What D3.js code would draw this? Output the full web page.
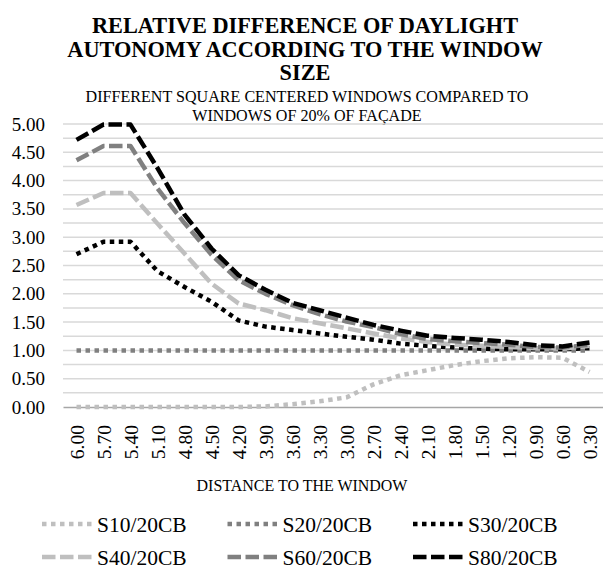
<!DOCTYPE html>
<html>
<head>
<meta charset="utf-8">
<script src="https://cdn.jsdelivr.net/npm/d3@7"></script>
<style>
  html, body { margin: 0; padding: 0; background: #fff; }
  svg text { font-family: "Liberation Serif", "Times New Roman", serif; }
</style>
</head>
<body>
<div id="chart"></div>
<script>
// distances (x categories) and the six series
const distances = ["6.00", "5.70", "5.40", "5.10", "4.80", "4.50", "4.20", "3.90", "3.60", "3.30",
                   "3.00", "2.70", "2.40", "2.10", "1.80", "1.50", "1.20", "0.90", "0.60", "0.30"];

const s10 = [0, 0, 0, 0, 0, 0, 0, 0.01, 0.05, 0.10, 0.17, 0.40, 0.56, 0.65, 0.74, 0.81, 0.86, 0.88, 0.87, 0.62];
const s20 = [1, 1, 1, 1, 1, 1, 1, 1, 1, 1, 1, 1, 1, 1, 1, 1, 1, 1, 1, 1];
const s30 = [2.70, 2.92, 2.92, 2.40, 2.12, 1.86, 1.53, 1.42, 1.36, 1.30, 1.24, 1.19, 1.12, 1.08, 1.05, 1.03, 1.02, 1.02, 1.02, 1.04];
const s40 = [3.57, 3.78, 3.78, 3.24, 2.71, 2.18, 1.83, 1.71, 1.57, 1.48, 1.39, 1.30, 1.21, 1.15, 1.10, 1.08, 1.06, 1.04, 1.03, 1.08];
const s60 = [4.36, 4.61, 4.61, 3.86, 3.25, 2.69, 2.24, 2.00, 1.80, 1.64, 1.51, 1.41, 1.29, 1.20, 1.16, 1.13, 1.10, 1.06, 1.05, 1.10];
const s80 = [4.72, 4.99, 4.99, 4.22, 3.40, 2.80, 2.33, 2.07, 1.84, 1.71, 1.58, 1.45, 1.35, 1.26, 1.22, 1.19, 1.15, 1.09, 1.07, 1.14];

const seriesNames = ["S10/20CB", "S20/20CB", "S30/20CB", "S40/20CB", "S60/20CB", "S80/20CB"];
const yTicks = [0, 0.5, 1, 1.5, 2, 2.5, 3, 3.5, 4, 4.5, 5];

const titleLines = ["RELATIVE DIFFERENCE OF DAYLIGHT", "AUTONOMY ACCORDING TO THE WINDOW", "SIZE"];
const subtitleLines = ["DIFFERENT SQUARE CENTERED WINDOWS COMPARED TO", "WINDOWS OF 20% OF FAÇADE"];

// line looks
const light = "#bfbfbf", mid = "#808080", dark = "#000000";
const dot = "4.5,4.5", dash = "13.5,4.5";
const styles = [
    { color: light, dasharray: dot },
    { color: mid, dasharray: dot },
    { color: dark, dasharray: dot },
    { color: light, dasharray: dash },
    { color: mid, dasharray: dash },
    { color: dark, dasharray: dash }
];

const series = [s10, s20, s30, s40, s60, s80].map((values, i) => ({
    name: seriesNames[i], values: values, style: styles[i]
}));

const width = 603, height = 569;
const plot = { left: 63, right: 603, top: 124, bottom: 407 };

const svg = d3.select("#chart").append("svg")
    .attr("width", width)
    .attr("height", height);

// Titles (text in the reference is a bit narrower than Times, so squeeze a little)
const cx = 305;
svg.append("g").selectAll("text")
    .data(titleLines)
    .enter().append("text")
    .attr("transform", (d, i) => `translate(${cx},${33 + i * 23.5}) scale(0.93,1)`)
    .attr("text-anchor", "middle")
    .attr("font-size", 24)
    .attr("font-weight", "bold")
    .attr("fill", "#000")
    .text(d => d);

svg.append("g").selectAll("text")
    .data(subtitleLines)
    .enter().append("text")
    .attr("transform", (d, i) => `translate(${cx + 2},${102 + i * 19}) scale(0.92,1)`)
    .attr("text-anchor", "middle")
    .attr("font-size", 17.5)
    .attr("fill", "#000")
    .text(d => d);

// Scales
const x = d3.scaleBand()
    .domain(distances)
    .range([plot.left, plot.right]);

const y = d3.scaleLinear()
    .domain([0, 5])
    .range([plot.bottom, plot.top]);

const xc = d => x(d) + x.bandwidth() / 2;

// Gridlines every 0.25
svg.append("g")
    .selectAll("line")
    .data(d3.range(1, 21).map(k => k * 0.25))
    .enter().append("line")
    .attr("x1", plot.left).attr("x2", plot.right)
    .attr("y1", d => y(d)).attr("y2", d => y(d))
    .attr("stroke", "#d9d9d9")
    .attr("stroke-width", 1.5);

// Y axis labels
svg.append("g")
    .attr("transform", `translate(${plot.left},0)`)
    .call(d3.axisLeft(y).tickValues(yTicks).tickFormat(d3.format(".2f")).tickSize(0).tickPadding(18))
    .call(g => g.select(".domain").remove())
    .call(g => g.selectAll("text")
        .attr("font-family", "Liberation Serif")
        .attr("font-size", 19)
        .attr("fill", "#000"));

// X axis
svg.append("g")
    .attr("transform", `translate(0,${plot.bottom})`)
    .call(d3.axisBottom(x).tickSize(0).tickPadding(0))
    .call(g => g.select(".domain")
        .attr("stroke", "#a6a6a6")
        .attr("stroke-width", 1.5))
    .call(g => g.selectAll("text")
        .attr("font-family", "Liberation Serif")
        .attr("font-size", 19.5)
        .attr("fill", "#000")
        .attr("text-anchor", "end")
        .attr("dy", null)
        .attr("y", 0)
        .attr("transform", "translate(7,18) rotate(-90)"));

svg.append("text")
    .attr("transform", `translate(${cx - 3},491) scale(0.94,1)`)
    .attr("text-anchor", "middle")
    .attr("font-size", 17)
    .attr("fill", "#000")
    .text("DISTANCE TO THE WINDOW");

// Lines
const line = d3.line()
    .x((d, i) => xc(distances[i]))
    .y(d => y(d));

svg.append("g")
    .selectAll("path")
    .data(series)
    .enter().append("path")
    .attr("d", d => line(d.values))
    .attr("fill", "none")
    .attr("stroke", d => d.style.color)
    .attr("stroke-width", 4.5)
    .attr("stroke-dasharray", d => d.style.dasharray)
    .attr("stroke-linejoin", "round");

// Legend: 3 columns x 2 rows
const legend = svg.append("g")
    .selectAll("g")
    .data(series)
    .enter().append("g")
    .attr("transform", (d, i) => `translate(${42 + (i % 3) * 185.5},${524 + Math.floor(i / 3) * 33})`);

legend.append("line")
    .attr("x1", 0).attr("x2", 50)
    .attr("y1", 0).attr("y2", 0)
    .attr("stroke", d => d.style.color)
    .attr("stroke-width", 4.5)
    .attr("stroke-dasharray", d => d.style.dasharray);

legend.append("text")
    .attr("x", 55)
    .attr("y", 7.5)
    .attr("font-size", 21.5)
    .attr("fill", "#000")
    .text(d => d.name);
</script>
</body>
</html>
